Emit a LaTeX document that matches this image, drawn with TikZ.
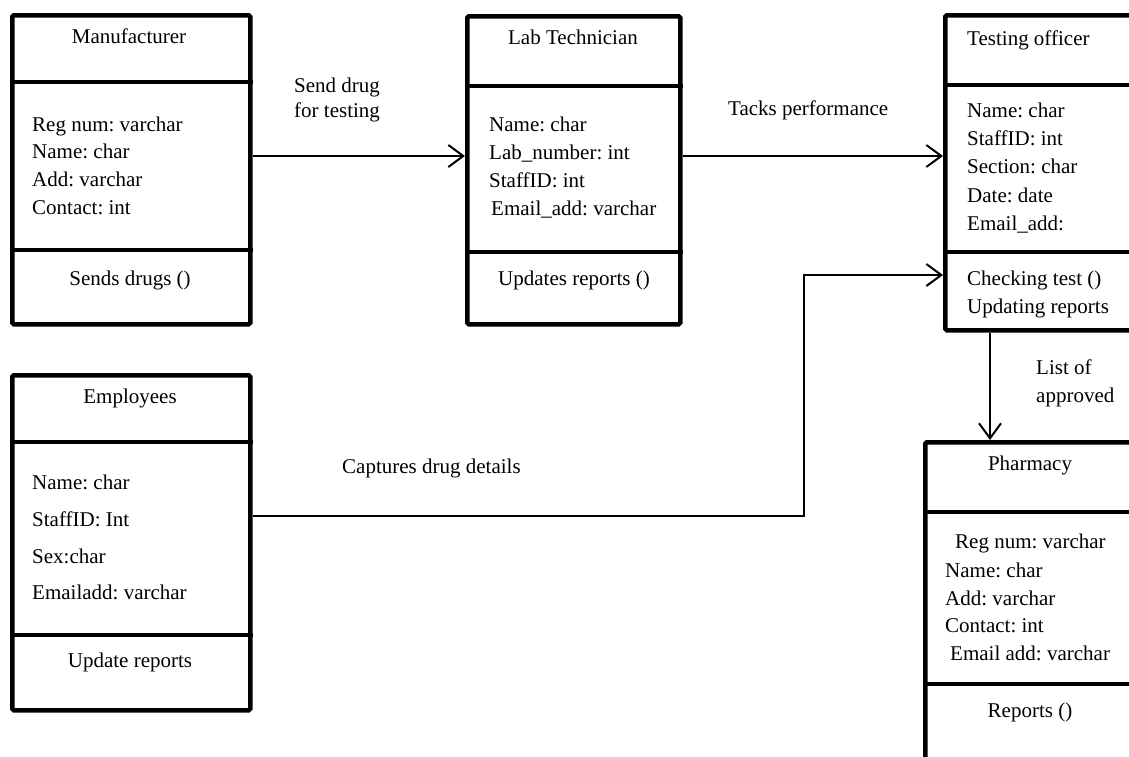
\documentclass[tikz,border=0pt]{standalone}
\usepackage{fontspec}
\setmainfont{Liberation Serif}
\usetikzlibrary{arrows.meta}
\frenchspacing
\begin{document}
\begin{tikzpicture}[x=1pt,y=-1pt,
  box/.style={draw, line width=4.5pt, rectangle, inner sep=0pt, anchor=north west, rounded corners=1.5pt},
  sepline/.style={line width=4.5pt},
  link/.style={line width=2pt, -{Straight Barb[length=15pt,width=22pt,line width=2pt]}},
  ltxt/.style={inner sep=0pt, anchor=base west, font=\fontsize{21}{25}\selectfont},
  ctxt/.style={inner sep=0pt, anchor=base, font=\fontsize{21}{25}\selectfont},
]
\useasboundingbox (0,0) rectangle (1129,756);
\clip (0,0) rectangle (1129,756);

% class boxes
\node[box, minimum width=238pt, minimum height=309pt] (manu) at (10,13) {};
\node[box, minimum width=213pt, minimum height=308pt] (lab) at (465,14) {};
\node[box, minimum width=210pt, minimum height=315pt] (test) at (943,13) {};
\node[box, minimum width=238pt, minimum height=335pt] (emp) at (10,373) {};
\node[box, minimum width=230pt, minimum height=340pt] (pharm) at (923,440) {};

% compartment separators
\draw[sepline] (manu.west |- 0,82) -- (manu.east |- 0,82);
\draw[sepline] (manu.west |- 0,250) -- (manu.east |- 0,250);
\draw[sepline] (lab.west |- 0,86) -- (lab.east |- 0,86);
\draw[sepline] (lab.west |- 0,252) -- (lab.east |- 0,252);
\draw[sepline] (test.west |- 0,85) -- (test.east |- 0,85);
\draw[sepline] (test.west |- 0,252) -- (test.east |- 0,252);
\draw[sepline] (emp.west |- 0,442) -- (emp.east |- 0,442);
\draw[sepline] (emp.west |- 0,635) -- (emp.east |- 0,635);
\draw[sepline] (pharm.west |- 0,512) -- (pharm.east |- 0,512);
\draw[sepline] (pharm.west |- 0,684) -- (pharm.east |- 0,684);

% Manufacturer
\node[ctxt] (manuT) at (129,43) {Manufacturer};
\node[ltxt] (manuA1) at (32,131) {Reg num: varchar};
\node[ltxt] (manuA2) at (32,158) {Name: char};
\node[ltxt] (manuA3) at (32,186) {Add: varchar};
\node[ltxt] (manuA4) at (32,214) {Contact: int};
\node[ctxt] (manuM1) at (130,285) {Sends drugs ()};

% Lab Technician
\node[ctxt] (labT) at (573,44) {Lab Technician};
\node[ltxt] (labA1) at (489,131) {Name: char};
\node[ltxt] (labA2) at (489,159) {Lab\_number: int};
\node[ltxt] (labA3) at (489,187) {StaffID: int};
\node[ltxt] (labA4) at (491,215) {Email\_add: varchar};
\node[ctxt] (labM1) at (574,285) {Updates reports ()};

% Testing officer
\node[ltxt] (testT) at (967,45) {Testing officer};
\node[ltxt] (testA1) at (967,117) {Name: char};
\node[ltxt] (testA2) at (967,145) {StaffID: int};
\node[ltxt] (testA3) at (967,173) {Section: char};
\node[ltxt] (testA4) at (967,202) {Date: date};
\node[ltxt] (testA5) at (967,230) {Email\_add:};
\node[ltxt] (testM1) at (967,285) {Checking test ()};
\node[ltxt] (testM2) at (967,313) {Updating reports};

% Employees
\node[ctxt] (empT) at (130,403) {Employees};
\node[ltxt] (empA1) at (32,489) {Name: char};
\node[ltxt] (empA2) at (32,526) {StaffID: Int};
\node[ltxt] (empA3) at (32,563) {Sex:char};
\node[ltxt] (empA4) at (32,599) {Emailadd: varchar};
\node[ctxt] (empM1) at (130,667) {Update reports};

% Pharmacy
\node[ctxt] (pharmT) at (1030,470) {Pharmacy};
\node[ltxt] (pharmA1) at (955,548) {Reg num: varchar};
\node[ltxt] (pharmA2) at (945,577) {Name: char};
\node[ltxt] (pharmA3) at (945,605) {Add: varchar};
\node[ltxt] (pharmA4) at (945,632) {Contact: int};
\node[ltxt] (pharmA5) at (950,660) {Email add: varchar};
\node[ctxt] (pharmM1) at (1030,717) {Reports ()};

% associations
\coordinate (bend) at (804,275);
\draw[link] (manu.east |- 0,156) -- (lab.west |- 0,156);
\draw[link] (lab.east |- 0,156) -- (test.west |- 0,156);
\draw[link] (emp.east |- 0,516) -| (bend) -- (test.west |- bend);
\draw[link] (test.south -| 990,0) -- (pharm.north -| 990,0);

% association labels
\node[ltxt] (l1a) at (294,92) {Send drug};
\node[ltxt] (l1b) at (294,117) {for testing};
\node[ltxt] (l2) at (728,115) {Tacks performance};
\node[ltxt] (l3) at (342,473) {Captures drug details};
\node[ltxt] (l4a) at (1036,374) {List of};
\node[ltxt] (l4b) at (1036,402) {approved};
\end{tikzpicture}
\end{document}
